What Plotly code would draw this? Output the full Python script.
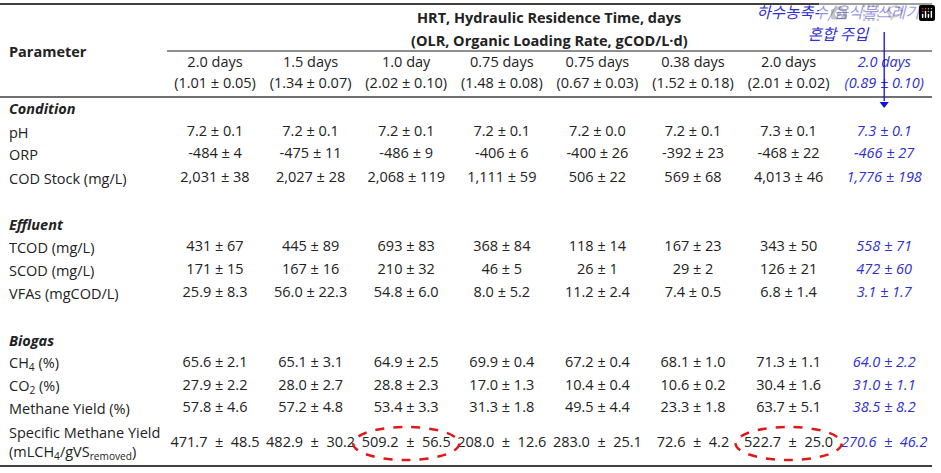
import plotly.graph_objects as go

# ---------------- data ----------------
hrt_labels = ["2.0 days", "1.5 days", "1.0 day", "0.75 days", "0.75 days", "0.38 days", "2.0 days", "2.0 days"]
olr_labels = ["(1.01 ± 0.05)", "(1.34 ± 0.07)", "(2.02 ± 0.10)", "(1.48 ± 0.08)",
              "(0.67 ± 0.03)", "(1.52 ± 0.18)", "(2.01 ± 0.02)", "(0.89 ± 0.10)"]

sections = ["Condition", "Effluent", "Biogas"]

row_labels = ["pH", "ORP", "COD Stock (mg/L)",
              "TCOD (mg/L)", "SCOD (mg/L)", "VFAs (mgCOD/L)",
              "CH<sub>4</sub> (%)", "CO<sub>2</sub> (%)", "Methane Yield (%)",
              "Specific Methane Yield<br>(mLCH<sub>4</sub>/gVS<sub>removed</sub>)"]

ph = ["7.2 ± 0.1", "7.2 ± 0.1", "7.2 ± 0.1", "7.2 ± 0.1", "7.2 ± 0.0", "7.2 ± 0.1", "7.3 ± 0.1", "7.3 ± 0.1"]
orp = ["-484 ± 4", "-475 ± 11", "-486 ± 9", "-406 ± 6", "-400 ± 26", "-392 ± 23", "-468 ± 22", "-466 ± 27"]
cod_stock = ["2,031 ± 38", "2,027 ± 28", "2,068 ± 119", "1,111 ± 59", "506 ± 22", "569 ± 68", "4,013 ± 46", "1,776 ± 198"]
tcod = ["431 ± 67", "445 ± 89", "693 ± 83", "368 ± 84", "118 ± 14", "167 ± 23", "343 ± 50", "558 ± 71"]
scod = ["171 ± 15", "167 ± 16", "210 ± 32", "46 ± 5", "26 ± 1", "29 ± 2", "126 ± 21", "472 ± 60"]
vfas = ["25.9 ± 8.3", "56.0 ± 22.3", "54.8 ± 6.0", "8.0 ± 5.2", "11.2 ± 2.4", "7.4 ± 0.5", "6.8 ± 1.4", "3.1 ± 1.7"]
ch4 = ["65.6 ± 2.1", "65.1 ± 3.1", "64.9 ± 2.5", "69.9 ± 0.4", "67.2 ± 0.4", "68.1 ± 1.0", "71.3 ± 1.1", "64.0 ± 2.2"]
co2 = ["27.9 ± 2.2", "28.0 ± 2.7", "28.8 ± 2.3", "17.0 ± 1.3", "10.4 ± 0.4", "10.6 ± 0.2", "30.4 ± 1.6", "31.0 ± 1.1"]
methane_yield = ["57.8 ± 4.6", "57.2 ± 4.8", "53.4 ± 3.3", "31.3 ± 1.8", "49.5 ± 4.4", "23.3 ± 1.8", "63.7 ± 5.1", "38.5 ± 8.2"]
specific_yield = ["471.7 ± 48.5", "482.9 ± 30.2", "509.2 ± 56.5", "208.0 ± 12.6",
                  "283.0 ± 25.1", "72.6 ± 4.2", "522.7 ± 25.0", "270.6 ± 46.2"]

highlighted_cells = [2, 6]   # columns circled in the last row
title1 = "HRT, Hydraulic Residence Time, days"
title2 = "(OLR, Organic Loading Rate, gCOD/L·d)"
note_lines = ["하수농축수/음식물쓰레기", "혼합 주입"]

values = [ph, orp, cod_stock, tcod, scod, vfas, ch4, co2, methane_yield, specific_yield]

# ---------------- layout constants ----------------
W, H = 941, 473
FONT = "Open Sans, Noto Sans CJK KR, sans-serif"
KFONT = "Noto Sans CJK KR"
FS = 14.5
TXT = "#222222"
BLUE = "#2f2fd0"
ARROW = "#1010e0"
col_x = [215 + 95.6 * i for i in range(8)]
row_y = [132, 154, 178, 247, 270, 293, 363, 386, 408, 443]
section_y = [108, 224, 340]
label_x = 7
WIDE_ROW = 9  # the last row uses wider spacing around "±"


def shown(vals, r):
    if r == WIDE_ROW:
        return [v.replace(" ± ", "\u00a0\u00a0±\u00a0\u00a0") for v in vals]
    return vals


fig = go.Figure()

# column headers (black columns and blue last column)
for lines_y, labels in ((63, hrt_labels), (84, olr_labels)):
    fig.add_trace(go.Scatter(x=col_x[:7], y=[lines_y] * 7, text=labels[:7], mode="text",
                             textfont=dict(family=FONT, size=FS, color=TXT), hoverinfo="skip"))
    fig.add_trace(go.Scatter(x=col_x[7:], y=[lines_y], text=labels[7:], mode="text",
                             textfont=dict(family=FONT, size=FS, color=BLUE, style="italic"), hoverinfo="skip"))

# body values
for r, (vals, y) in enumerate(zip(values, row_y)):
    txt = shown(vals, r)
    fig.add_trace(go.Scatter(x=col_x[:7], y=[y] * 7, text=txt[:7], mode="text",
                             textfont=dict(family=FONT, size=FS, color=TXT), hoverinfo="skip"))
    fig.add_trace(go.Scatter(x=col_x[7:], y=[y], text=txt[7:], mode="text",
                             textfont=dict(family=FONT, size=FS, color=BLUE, style="italic"), hoverinfo="skip"))

# Korean note (two lines) drawn as text marks
fig.add_trace(go.Scatter(x=[838, 838], y=[14, 36], text=note_lines, mode="text", hoverinfo="skip",
                         textfont=dict(family=KFONT, size=15.5, color=BLUE, style="italic")))

# arrow head of the note pointer
fig.add_trace(go.Scatter(x=[col_x[7]], y=[104], mode="markers", hoverinfo="skip",
                         marker=dict(symbol="triangle-down", size=8, color=ARROW, line=dict(width=0))))

annotations = []
# row labels
for lab, y in zip(row_labels, row_y):
    annotations.append(dict(x=label_x, y=y, text=lab, showarrow=False, xanchor="left", yanchor="middle",
                            align="left", font=dict(family=FONT, size=FS, color=TXT)))
for s, y in zip(sections, section_y):
    annotations.append(dict(x=label_x, y=y, text=f"<b><i>{s}</i></b>", showarrow=False, xanchor="left",
                            yanchor="middle", font=dict(family=FONT, size=FS, color=TXT)))
annotations.append(dict(x=label_x, y=51, text="<b>Parameter</b>", showarrow=False, xanchor="left",
                        yanchor="middle", font=dict(family=FONT, size=FS, color=TXT)))
annotations.append(dict(x=549, y=17, text=f"<b>{title1}</b>", showarrow=False, xanchor="center",
                        yanchor="middle", font=dict(family=FONT, size=FS, color=TXT)))
annotations.append(dict(x=549, y=40, text=f"<b>{title2}</b>", showarrow=False, xanchor="center",
                        yanchor="middle", font=dict(family=FONT, size=FS, color=TXT)))

shapes = [
    dict(type="line", x0=0, x1=932, y0=4, y1=4, line=dict(color="#404040", width=2)),
    dict(type="line", x0=167, x1=932, y0=51, y1=51, line=dict(color="#202020", width=1.2)),
    dict(type="line", x0=0, x1=932, y0=97, y1=97, line=dict(color="#404040", width=1.5)),
    dict(type="line", x0=0, x1=932, y0=466, y1=466, line=dict(color="#404040", width=2)),
    dict(type="line", x0=col_x[7], x1=col_x[7], y0=32, y1=101, line=dict(color=ARROW, width=1.3)),
]
for c in highlighted_cells:
    shapes.append(dict(type="circle", x0=col_x[c] - 53, x1=col_x[c] + 53, y0=row_y[-1] - 16, y1=row_y[-1] + 17,
                       line=dict(color="#e01818", width=2.5, dash="dash")))

fig.update_layout(
    width=W, height=H, margin=dict(l=0, r=0, t=0, b=0),
    paper_bgcolor="white", plot_bgcolor="white", showlegend=False,
    xaxis=dict(range=[0, W], visible=False, fixedrange=True),
    yaxis=dict(range=[H, 0], visible=False, fixedrange=True),
    annotations=annotations, shapes=shapes,
)
# remove the browser's default 8px page margin so the figure sits at the window's corner
fig.write_html("out.html", post_script="document.body.style.margin='0';document.body.style.overflow='hidden';")
